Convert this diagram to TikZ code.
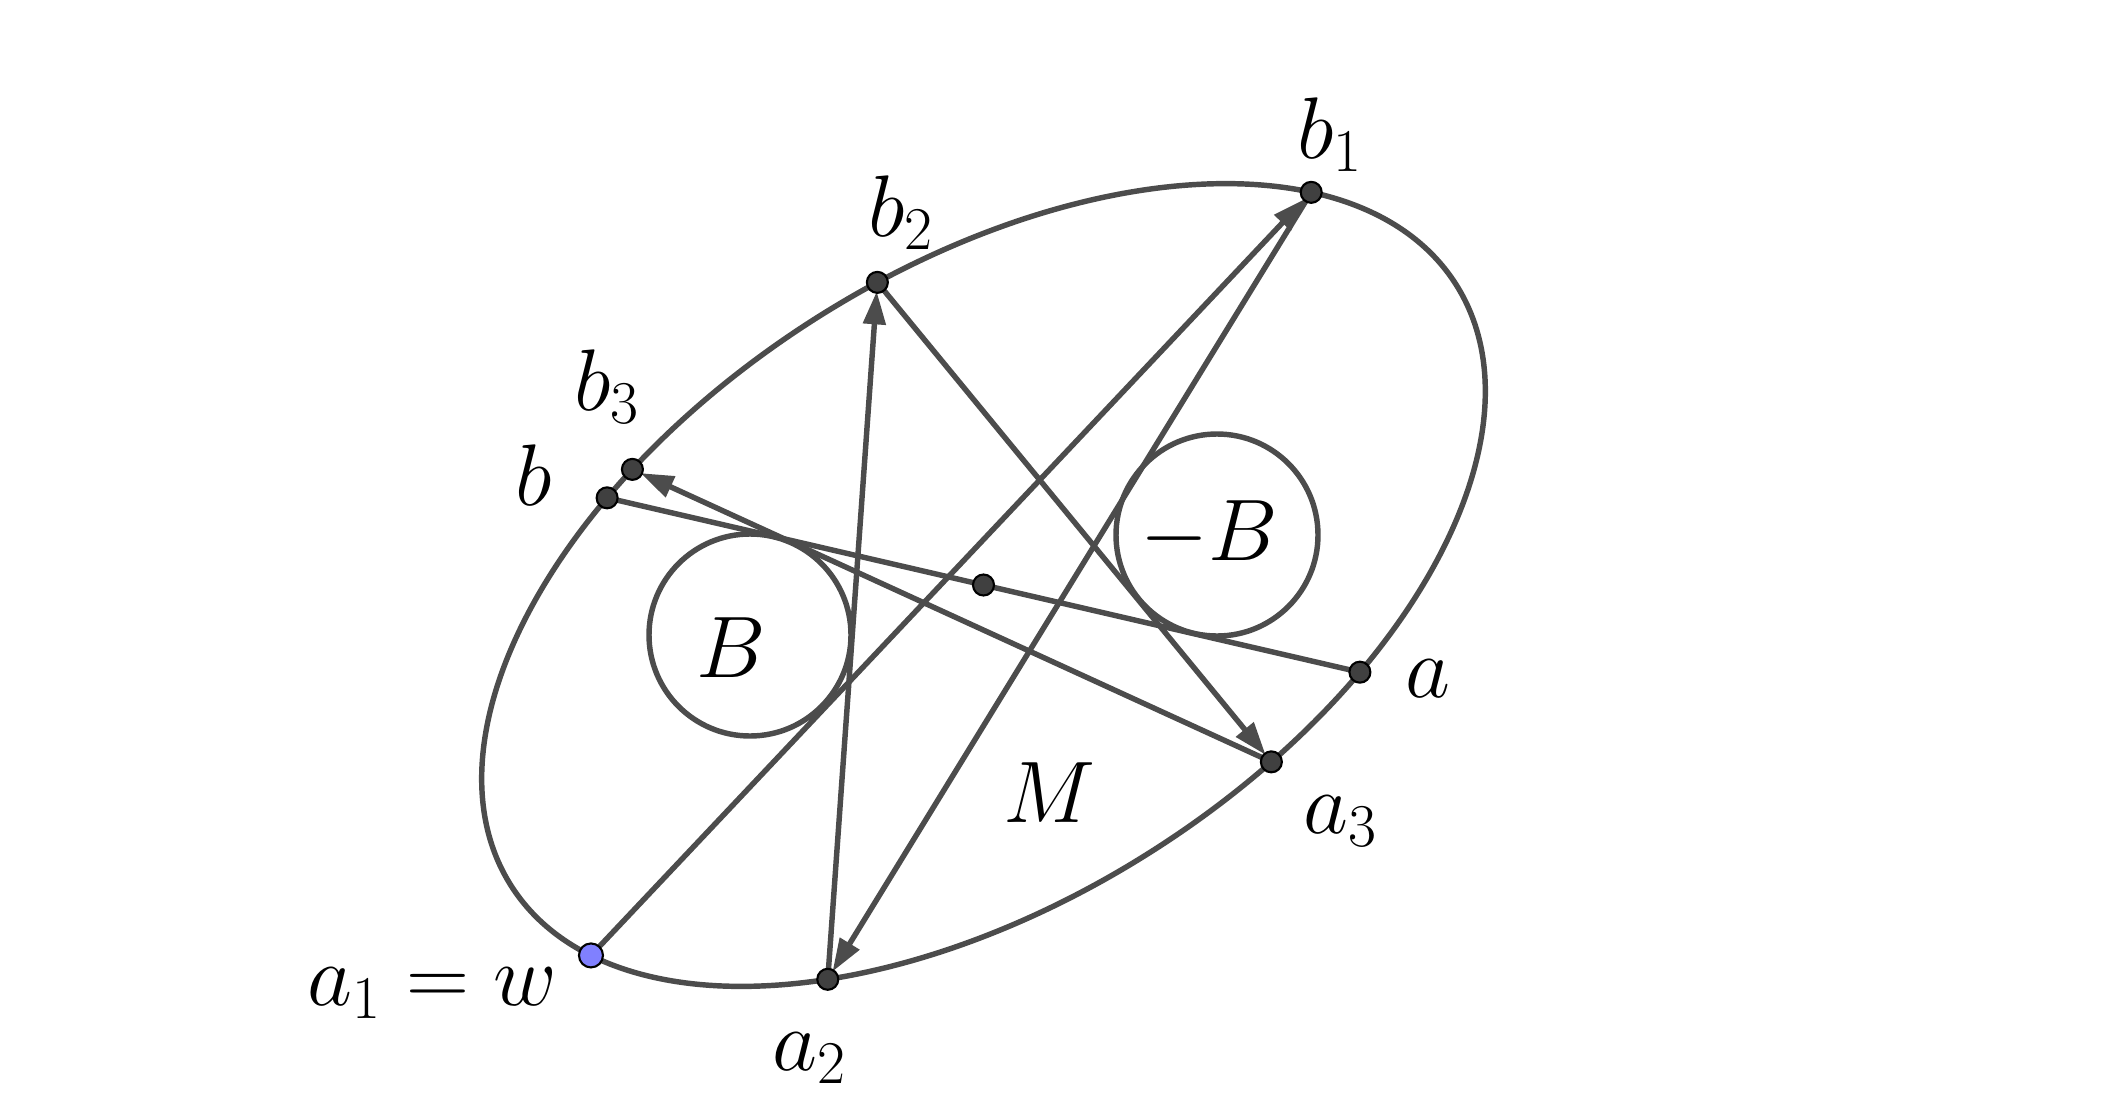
\documentclass[tikz,border=0pt]{standalone}
\usepackage{amsmath,amssymb}
\usepackage{tikz}
\usetikzlibrary{arrows.meta}

\begin{document}
\begin{tikzpicture}[x=0.1mm,y=0.1mm,line width=1.55pt,
  curve/.style={draw=black!70},
  vec/.style={draw=black!70,-{Triangle[length=3.3mm,width=2.2mm]},shorten >=0.9mm},
  dot/.style={circle,draw=black,fill=black!75,line width=0.6pt,inner sep=0pt,minimum size=2.1mm},
  wdot/.style={dot,fill=blue!50,minimum size=2.4mm},
  lbl/.style={anchor=base,font=\fontsize{23}{28}\selectfont}]
\useasboundingbox (0,0) rectangle (2128,1112);
% the set M and its boundary points
\begin{scope}[shift={(983.5,527)},rotate=32.5]
\draw[curve] (0,0) ellipse [x radius=560,y radius=315];
\coordinate (o) at (0,0);
\coordinate (b1) at (29.5:560 and 315);
\coordinate (b2) at (82.5:560 and 315);
\coordinate (b3) at (114.7:560 and 315);
\coordinate (b) at (118.9:560 and 315);
\coordinate (a) at (298.9:560 and 315);
\coordinate (a3) at (285.3:560 and 315);
\coordinate (a2) at (232.2:560 and 315);
\coordinate (a1) at (198.8:560 and 315);
\end{scope}
% B and -B
\coordinate (cB) at (750,477);
\coordinate (cmB) at (1217,577);
\draw[curve] (cB) circle [radius=101];
\draw[curve] (cmB) circle [radius=101];
% segments
\draw[curve] (b) -- (a);
\draw[vec] (a1) -- (b1);
\draw[vec] (b1) -- (a2);
\draw[vec] (a2) -- (b2);
\draw[vec] (b2) -- (a3);
\draw[vec] (a3) -- (b3);
\foreach \p in {b1,b2,b3,b,a,a3,a2,o}
  \node[dot] (d\p) at (\p) {};
\node[wdot] (da1) at (a1) {};
% labels
\node[lbl] (lb1) at (1330,954) {$b_1$};
\node[lbl] (lb2) at (901,876) {$b_2$};
\node[lbl] (lb3) at (607,702) {$b_3$};
\node[lbl] (lb) at (534,607) {$b$};
\node[lbl] (la) at (1428,415) {$a$};
\node[lbl] (la3) at (1341,279) {$a_3$};
\node[lbl] (la2) at (810,42) {$a_2$};
\node[lbl] (la1) at (432,107) {$a_1=w$};
\node[lbl] (lB) at (731,435) {$B$};
\node[lbl] (lmB) at (1209,552) {$-B$};
\node[lbl] (lM) at (1049,290) {$M$};
\end{tikzpicture}
\end{document}
